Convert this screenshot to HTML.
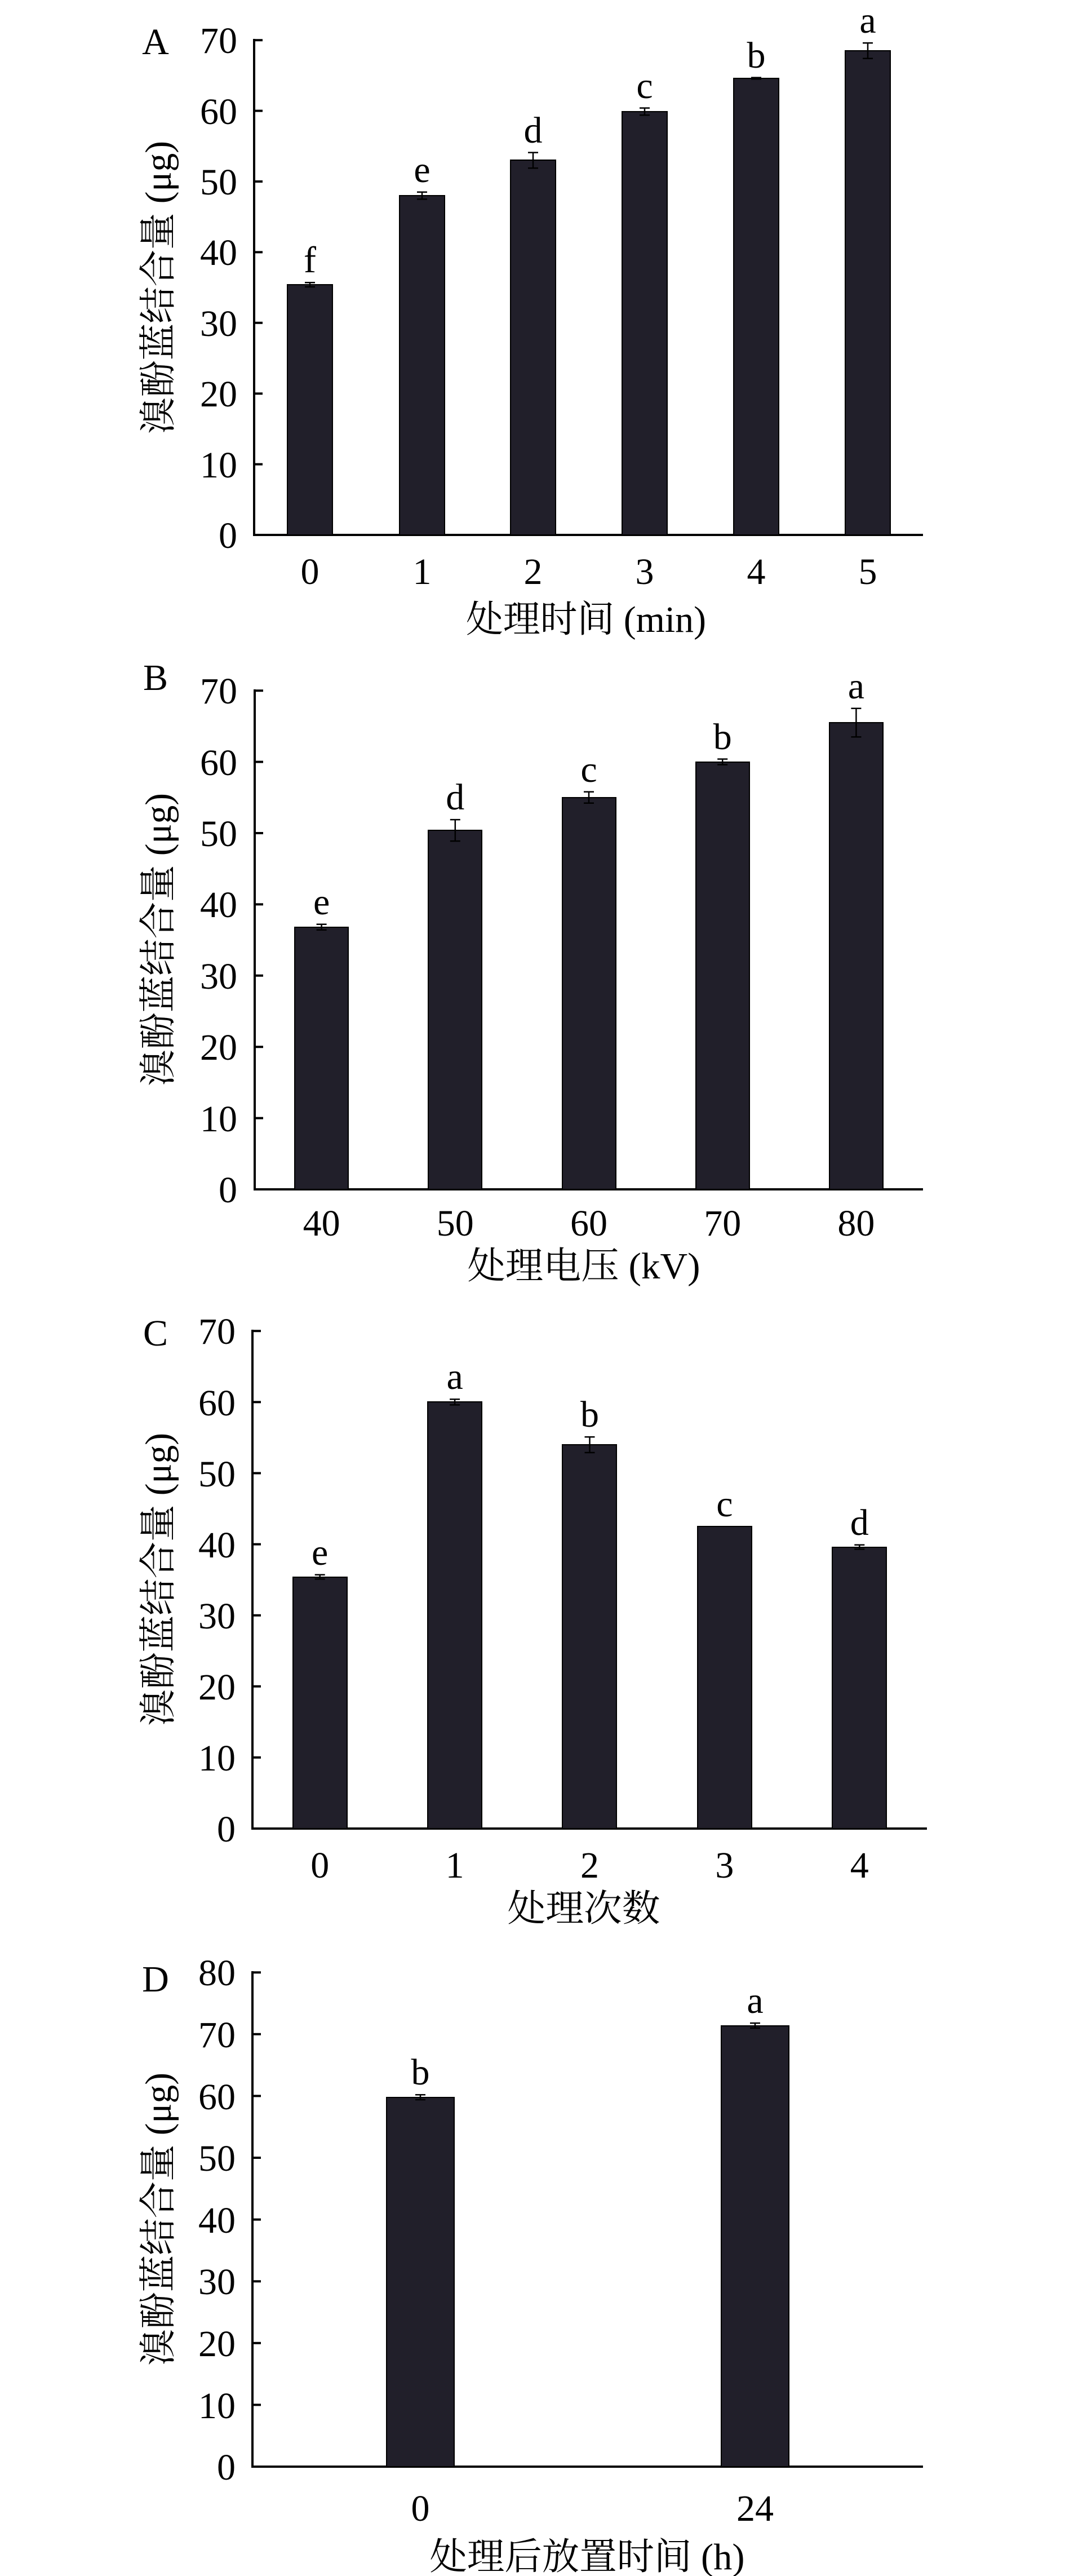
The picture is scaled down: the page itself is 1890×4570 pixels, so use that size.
<!DOCTYPE html>
<html><head><meta charset="utf-8"><style>
html,body{margin:0;padding:0;background:#fff}
svg{display:block}
text{font-family:"Liberation Serif","Noto Serif CJK SC","Noto Sans CJK SC",serif;fill:#000}
.t{font-size:66px}
.r{text-anchor:end}
.m{text-anchor:middle}
.yl{font-size:66px;text-anchor:middle}
.b{fill:#211f2a;stroke:#000;stroke-width:2}
.e{stroke:#000;stroke-width:2.5;fill:none}
.ax{stroke:#000;stroke-width:4;fill:none}
</style></head><body>
<svg width="1890" height="4570" viewBox="0 0 1890 4570" xmlns="http://www.w3.org/2000/svg">

<!-- Panel A -->
<text class="t m" x="276" y="96">A</text>
<path class="ax" d="M451,69 V949 H1638"/>
<path class="ax" d="M451,949h15M451,823.6h15M451,698.2h15M451,572.8h15M451,447.4h15M451,322h15M451,196.6h15M451,71.2h15"/>
<g class="t r" transform="translate(0,4)">
<text x="421" y="968">0</text><text x="421" y="843">10</text><text x="421" y="717">20</text><text x="421" y="592">30</text><text x="421" y="466">40</text><text x="421" y="341">50</text><text x="421" y="216">60</text><text x="421" y="90">70</text>
</g>
<rect class="b" x="510" y="505" width="80" height="444"/>
<rect class="b" x="709" y="347" width="80" height="602"/>
<rect class="b" x="906" y="284" width="80" height="665"/>
<rect class="b" x="1104" y="198" width="80" height="751"/>
<rect class="b" x="1302" y="139" width="80" height="810"/>
<rect class="b" x="1500" y="90" width="80" height="859"/>
<path class="e" d="M550,501.3V508.9M541,501.3h18M541,508.9h18
M749,340.8V353.4M740,340.8h18M740,353.4h18
M946,270.6V298.2M937,270.6h18M937,298.2h18
M1144,191.6V204.2M1135,191.6h18M1135,204.2h18
M1342,137.6V140.2M1333,137.6h18M1333,140.2h18
M1540,76.2V103.8M1531,76.2h18M1531,103.8h18"/>
<g class="t m">
<text x="550" y="483">f</text><text x="749" y="323">e</text><text x="946" y="253">d</text><text x="1144" y="174">c</text><text x="1342" y="120">b</text><text x="1540" y="58">a</text>
<text x="550" y="1036">0</text><text x="749" y="1036">1</text><text x="946" y="1036">2</text><text x="1144" y="1036">3</text><text x="1342" y="1036">4</text><text x="1540" y="1036">5</text>
</g>
<text class="t m" x="1040" y="1121" textLength="426" lengthAdjust="spacingAndGlyphs">处理时间 (min)</text>
<text class="yl" transform="translate(303,510) rotate(-90)" textLength="520" lengthAdjust="spacingAndGlyphs">溴酚蓝结合量 (μg)</text>

<!-- Panel B -->
<text class="t m" x="276" y="1224">B</text>
<path class="ax" d="M452,1223 V2110 H1638"/>
<path class="ax" d="M452,2110h15M452,1983.6h15M452,1857.2h15M452,1730.8h15M452,1604.4h15M452,1478h15M452,1351.6h15M452,1225.2h15"/>
<g class="t r" transform="translate(0,4)">
<text x="421" y="2129">0</text><text x="421" y="2003">10</text><text x="421" y="1876">20</text><text x="421" y="1750">30</text><text x="421" y="1623">40</text><text x="421" y="1497">50</text><text x="421" y="1371">60</text><text x="421" y="1244">70</text>
</g>
<rect class="b" x="523" y="1645" width="95" height="465"/>
<rect class="b" x="760" y="1473" width="95" height="637"/>
<rect class="b" x="998" y="1415" width="95" height="695"/>
<rect class="b" x="1235" y="1352" width="95" height="758"/>
<rect class="b" x="1472" y="1282" width="95" height="828"/>
<path class="e" d="M570.6,1639.8V1649.8M561.6,1639.8h18M561.6,1649.8h18
M807.8,1454.1V1492.1M798.8,1454.1h18M798.8,1492.1h18
M1045,1404.8V1424.8M1036,1404.8h18M1036,1424.8h18
M1282.2,1346.6V1356.6M1273.2,1346.6h18M1273.2,1356.6h18
M1519.4,1256.8V1307.4M1510.4,1256.8h18M1510.4,1307.4h18"/>
<g class="t m">
<text x="570.6" y="1622">e</text><text x="807.8" y="1436">d</text><text x="1045" y="1387">c</text><text x="1282.2" y="1329">b</text><text x="1519.4" y="1239">a</text>
<text x="570.6" y="2192">40</text><text x="807.8" y="2192">50</text><text x="1045" y="2192">60</text><text x="1282.2" y="2192">70</text><text x="1519.4" y="2192">80</text>
</g>
<text class="t m" x="1036" y="2268" textLength="413" lengthAdjust="spacingAndGlyphs">处理电压 (kV)</text>
<text class="yl" transform="translate(303,1667) rotate(-90)" textLength="520" lengthAdjust="spacingAndGlyphs">溴酚蓝结合量 (μg)</text>

<!-- Panel C -->
<text class="t m" x="276" y="2387">C</text>
<path class="ax" d="M448,2359 V3244 H1645"/>
<path class="ax" d="M448,3244h15M448,3117.9h15M448,2991.8h15M448,2865.7h15M448,2739.6h15M448,2613.5h15M448,2487.4h15M448,2361.3h15"/>
<g class="t r" transform="translate(0,4)">
<text x="418" y="3263">0</text><text x="418" y="3137">10</text><text x="418" y="3011">20</text><text x="418" y="2885">30</text><text x="418" y="2759">40</text><text x="418" y="2633">50</text><text x="418" y="2507">60</text><text x="418" y="2380">70</text>
</g>
<rect class="b" x="520" y="2798" width="96" height="446"/>
<rect class="b" x="759" y="2487" width="96" height="757"/>
<rect class="b" x="998" y="2563" width="96" height="681"/>
<rect class="b" x="1238" y="2708" width="96" height="536"/>
<rect class="b" x="1477" y="2745" width="96" height="499"/>
<path class="e" d="M567.7,2793.8V2801.4M558.7,2793.8h18M558.7,2801.4h18
M807.1,2482.4V2492.4M798.1,2482.4h18M798.1,2492.4h18
M1046.5,2549.2V2577M1037.5,2549.2h18M1037.5,2577h18
M1525.3,2740.8V2748.4M1516.3,2740.8h18M1516.3,2748.4h18"/>
<g class="t m">
<text x="567.7" y="2776">e</text><text x="807.1" y="2464">a</text><text x="1046.5" y="2531">b</text><text x="1285.9" y="2690">c</text><text x="1525.3" y="2723">d</text>
<text x="567.7" y="3331">0</text><text x="807.1" y="3331">1</text><text x="1046.5" y="3331">2</text><text x="1285.9" y="3331">3</text><text x="1525.3" y="3331">4</text>
</g>
<text class="t m" x="1036" y="3408" textLength="271" lengthAdjust="spacingAndGlyphs">处理次数</text>
<text class="yl" transform="translate(303,2802) rotate(-90)" textLength="520" lengthAdjust="spacingAndGlyphs">溴酚蓝结合量 (μg)</text>

<!-- Panel D -->
<text class="t m" x="276" y="3533">D</text>
<path class="ax" d="M448,3497 V4376 H1638"/>
<path class="ax" d="M448,4376h15M448,4266.4h15M448,4156.8h15M448,4047.2h15M448,3937.6h15M448,3828h15M448,3718.4h15M448,3608.8h15M448,3499.2h15"/>
<g class="t r" transform="translate(0,4)">
<text x="418" y="4395">0</text><text x="418" y="4286">10</text><text x="418" y="4176">20</text><text x="418" y="4066">30</text><text x="418" y="3957">40</text><text x="418" y="3847">50</text><text x="418" y="3738">60</text><text x="418" y="3628">70</text><text x="418" y="3518">80</text>
</g>
<rect class="b" x="686" y="3721" width="120" height="655"/>
<rect class="b" x="1280" y="3594" width="120" height="782"/>
<path class="e" d="M746,3716.2V3725M737,3716.2h18M737,3725h18
M1340,3589.1V3597.9M1331,3589.1h18M1331,3597.9h18"/>
<g class="t m">
<text x="746" y="3698">b</text><text x="1340" y="3571">a</text>
<text x="746" y="4472">0</text><text x="1340" y="4472">24</text>
</g>
<text class="t m" x="1042" y="4558" textLength="559" lengthAdjust="spacingAndGlyphs">处理后放置时间 (h)</text>
<text class="yl" transform="translate(303,3937) rotate(-90)" textLength="520" lengthAdjust="spacingAndGlyphs">溴酚蓝结合量 (μg)</text>
</svg>
</body></html>
